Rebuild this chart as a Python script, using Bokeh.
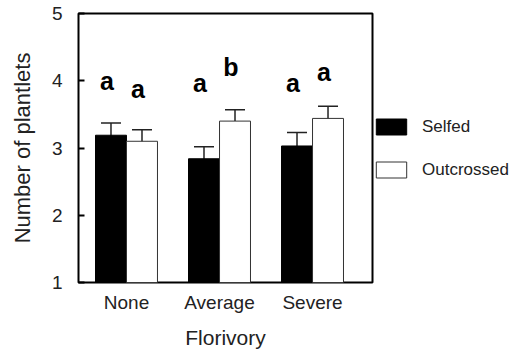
from bokeh.plotting import figure
from bokeh.models import (ColumnDataSource, Range1d, FixedTicker, Whisker, TeeHead,
                          Legend, LegendItem)
from bokeh.core.properties import value
from bokeh.embed import file_html
from bokeh.resources import INLINE

# ---- data ----
categories = ["None", "Average", "Severe"]
selfed = [3.19, 2.84, 3.03]
selfed_err = [0.18, 0.18, 0.20]
outcrossed = [3.10, 3.40, 3.44]
outcrossed_err = [0.17, 0.17, 0.18]
letters_selfed = ["a", "a", "a"]
letters_outcrossed = ["a", "b", "a"]
letter_y_selfed = [4.00, 3.96, 3.96]
letter_y_outcrossed = [3.88, 4.21, 4.13]
y_ticks = [1, 2, 3, 4, 5]

FONT = "Liberation Sans"
idx = list(range(len(categories)))
bw = 0.333
off = 0.1667

x_s = [i - off for i in idx]
x_o = [i + off for i in idx]

src_s = ColumnDataSource(dict(
    x=x_s, top=selfed,
    upper=[v + e for v, e in zip(selfed, selfed_err)],
    lower=[v - e for v, e in zip(selfed, selfed_err)],
    lx=x_s, ly=letter_y_selfed, lt=letters_selfed))
src_o = ColumnDataSource(dict(
    x=x_o, top=outcrossed,
    upper=[v + e for v, e in zip(outcrossed, outcrossed_err)],
    lower=[v - e for v, e in zip(outcrossed, outcrossed_err)],
    lx=x_o, ly=letter_y_outcrossed, lt=letters_outcrossed))

p = figure(frame_width=294, frame_height=269, output_backend="svg",
           toolbar_location=None,
           x_range=Range1d(-0.516, 2.645), y_range=Range1d(1, 5),
           min_border_left=78, min_border_right=143, min_border_top=13,
           min_border_bottom=69)
p.background_fill_color = "white"
p.border_fill_color = "white"
p.outline_line_color = "black"
p.outline_line_width = 2
p.xgrid.visible = False
p.ygrid.visible = False

r_s = p.vbar(x="x", top="top", bottom=1, width=bw, source=src_s,
             fill_color="black", line_color="black", line_width=1)
r_o = p.vbar(x="x", top="top", bottom=1, width=bw, source=src_o,
             fill_color="white", line_color="#333333", line_width=1)

for src in (src_s, src_o):
    w = Whisker(base="x", upper="upper", lower="lower", source=src,
                dimension="height", line_color="#222222", line_width=1.5,
                upper_head=TeeHead(size=20, line_width=1.5, line_color="#222222"),
                lower_head=TeeHead(size=20, line_width=1.5, line_color="#222222"))
    p.add_layout(w)
    p.text(x="lx", y="ly", text="lt", source=src, text_font=value(FONT),
           text_font_size="25px", text_font_style="bold", text_align="center",
           text_baseline="alphabetic", x_offset=-4, text_color="black")

# axes
p.xaxis.ticker = FixedTicker(ticks=idx)
p.xaxis.major_label_overrides = {i: c for i, c in zip(idx, categories)}
p.xaxis.major_tick_line_color = None
p.xaxis.minor_tick_line_color = None
p.xaxis.axis_line_color = None
p.xaxis.major_label_standoff = 3
p.xaxis.major_label_text_font = FONT
p.xaxis.major_label_text_font_size = "19px"
p.xaxis.major_label_text_color = "#222222"
p.xaxis.axis_label = "Florivory"
p.xaxis.axis_label_text_font = FONT
p.xaxis.axis_label_text_font_size = "21px"
p.xaxis.axis_label_text_font_style = "normal"
p.xaxis.axis_label_text_color = "#222222"
p.xaxis.axis_label_standoff = 10

p.yaxis.ticker = FixedTicker(ticks=y_ticks)
p.yaxis.major_tick_in = 6
p.yaxis.major_tick_out = 0
p.yaxis.major_tick_line_width = 2
p.yaxis.minor_tick_line_color = None
p.yaxis.axis_line_color = None
p.yaxis.major_label_standoff = 16
p.yaxis.major_label_text_font = FONT
p.yaxis.major_label_text_font_size = "19px"
p.yaxis.major_label_text_color = "#222222"
p.yaxis.axis_label = "Number of plantlets"
p.yaxis.axis_label_text_font = FONT
p.yaxis.axis_label_text_font_size = "22px"
p.yaxis.axis_label_text_font_style = "normal"
p.yaxis.axis_label_text_color = "#222222"
p.yaxis.axis_label_standoff = 14

legend = Legend(items=[LegendItem(label="Selfed", renderers=[r_s]),
                       LegendItem(label="Outcrossed", renderers=[r_o])],
                location="center_left", orientation="vertical",
                glyph_width=38, glyph_height=20, label_height=20,
                spacing=23, label_standoff=12, padding=0, margin=0,
                border_line_color=None, background_fill_alpha=0,
                label_text_font=FONT, label_text_font_size="17px",
                label_text_color="#222222")
p.add_layout(legend, "right")

open("out.html", "w").write(file_html(p, INLINE))
